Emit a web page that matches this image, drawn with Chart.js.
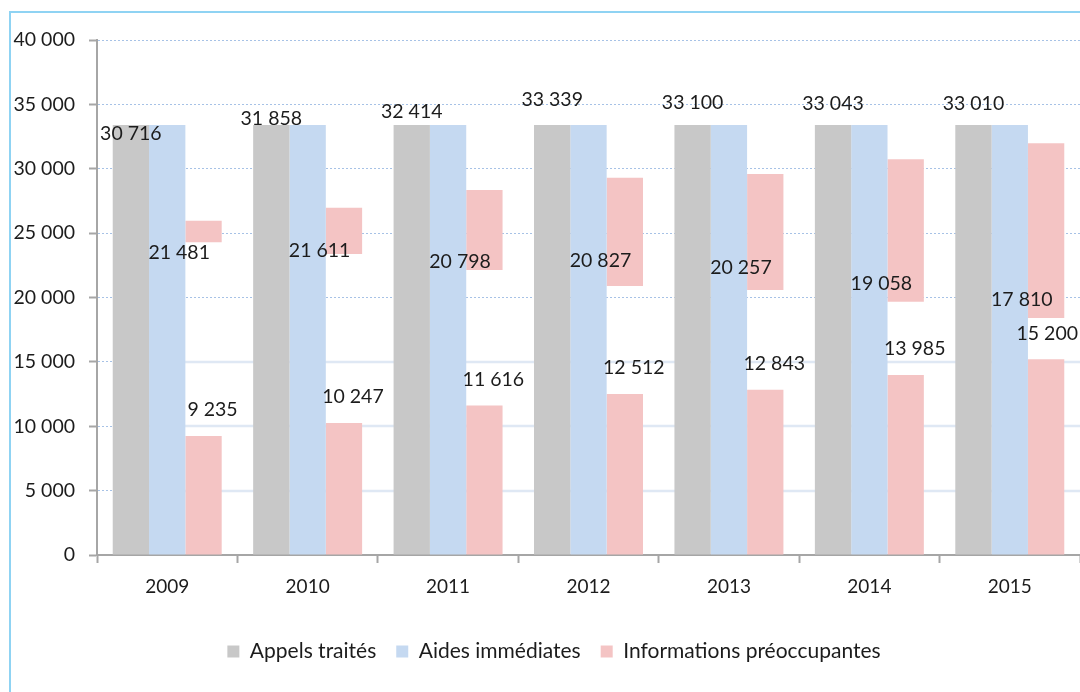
<!DOCTYPE html>
<html>
<head>
<meta charset="utf-8">
<script src="https://cdn.jsdelivr.net/npm/chart.js@4.4.1/dist/chart.umd.min.js"></script>
<style>
  html, body { margin: 0; padding: 0; background: #ffffff; }
  #wrap { position: relative; width: 1080px; height: 692px; overflow: hidden; background: #fff; }
  #frame { position: absolute; left: 9px; top: 11px; width: 1100px; height: 700px;
           border-left: 2px solid #8fd3f3; border-top: 2px solid #8fd3f3; pointer-events: none; }
  canvas { position: absolute; left: 0; top: 0; }
</style>
</head>
<body>
<div id="wrap">
  <canvas id="c" width="1080" height="692"></canvas>
  <div id="frame"></div>
</div>
<script>
// ---- data ----
const years = ['2009', '2010', '2011', '2012', '2013', '2014', '2015'];
// values printed on the chart
const appelsTraites = [30716, 31858, 32414, 33339, 33100, 33043, 33010];
const aidesImmediates = [21481, 21611, 20798, 20827, 20257, 19058, 17810];
const infosPreoccupantes = [9235, 10247, 11616, 12512, 12843, 13985, 15200];
// heights of the bars as they are drawn in the picture
const appelsBarTop = [33400, 33400, 33400, 33400, 33400, 33400, 33400];
const aidesBarTop = [33400, 33400, 33400, 33400, 33400, 33400, 33400];
const infosUpperLow = [24290, 23380, 22140, 20890, 20580, 19670, 18400];
const infosUpperHigh = [25970, 26980, 28350, 29300, 29590, 30730, 31980];
const yTicks = [0, 5000, 10000, 15000, 20000, 25000, 30000, 35000, 40000];

const fmt = v => String(v).replace(/\B(?=(\d{3})+(?!\d))/g, ' ');
const FONT = 'Lato, "Open Sans", sans-serif';
const TXT = '#1c1c1c';

const upperSegments = infosUpperLow.map((lo, i) => [lo, infosUpperHigh[i]]);

const labelPlugin = {
  id: 'valueLabels',
  afterDatasetsDraw(chart) {
    const ctx = chart.ctx;
    const y = chart.scales.y;
    const sets = [
      { ds: 0, vals: appelsTraites, dx: 0 },
      { ds: 1, vals: aidesImmediates, dx: 12 },
      { ds: 2, vals: infosPreoccupantes, dx: 9 }
    ];
    ctx.save();
    ctx.font = '19.5px ' + FONT;
    ctx.fillStyle = TXT;
    ctx.textAlign = 'center';
    ctx.textBaseline = 'middle';
    sets.forEach(s => {
      const meta = chart.getDatasetMeta(s.ds);
      meta.data.forEach((bar, i) => {
        const t = fmt(s.vals[i]);
        const w = ctx.measureText(t).width;
        let x = bar.x + s.dx;
        if (x + w / 2 > chart.width - 2) x = chart.width - 2 - w / 2;
        const py = y.getPixelForValue(s.vals[i]) - 26;
        ctx.fillText(t, x, py);
      });
    });
    ctx.restore();
  }
};

const guidePlugin = {
  id: 'guides',
  beforeDatasetsDraw(chart) {
    const ctx = chart.ctx, a = chart.chartArea, y = chart.scales.y;
    ctx.save();
    ctx.strokeStyle = '#dfe8f4';
    ctx.lineWidth = 2.5;
    [5000, 10000, 15000].forEach(v => {
      const py = Math.round(y.getPixelForValue(v));
      ctx.beginPath(); ctx.moveTo(a.left + 20, py); ctx.lineTo(a.right, py); ctx.stroke();
    });
    ctx.restore();
  }
};

const legendShift = {
  id: 'legendShift',
  afterLayout(chart) {
    if (chart.legend) { chart.legend.left += 14; chart.legend.right += 14; }
  }
};

new Chart(document.getElementById('c'), {
  type: 'bar',
  data: {
    labels: years,
    datasets: [
      { label: 'Appels traités', data: appelsBarTop, backgroundColor: '#c8c8c8', stack: 'a' },
      { label: 'Aides immédiates', data: aidesBarTop, backgroundColor: '#c5d9f1', stack: 'b' },
      { label: 'Informations préoccupantes', data: infosPreoccupantes, backgroundColor: '#f4c4c4', stack: 'c' },
      { label: '_upper', data: upperSegments, backgroundColor: '#f4c4c4', stack: 'c' }
    ]
  },
  options: {
    responsive: false,
    animation: false,
    devicePixelRatio: 1,
    layout: { padding: { left: 0, right: 0, top: 40, bottom: 20 } },
    datasets: { bar: { barPercentage: 1.0, categoryPercentage: 0.776, borderWidth: 0 } },
    scales: {
      x: {
        stacked: true,
        grid: { display: true, drawOnChartArea: false, drawTicks: true, tickLength: 8, tickColor: '#a6a6a6', tickWidth: 2, offset: true },
        border: { display: true, color: '#a6a6a6', width: 2 },
        ticks: { color: TXT, font: { family: FONT, size: 19 }, padding: 12 },
        afterFit(s) { s.height = 66; }
      },
      y: {
        stacked: false,
        min: 0, max: 40000,
        afterBuildTicks(s) { s.ticks = yTicks.map(v => ({ value: v })); },
        grid: { color: '#a7c2e6', lineWidth: 1, tickLength: 8, tickColor: '#a6a6a6', tickWidth: 2 },
        border: { display: true, color: '#a6a6a6', width: 2, dash: [2, 2] },
        ticks: { color: TXT, font: { family: FONT, size: 19.5 }, padding: 14, callback: v => fmt(v) },
        afterFit(s) { s.width = 97; }
      }
    },
    plugins: {
      legend: {
        position: 'bottom',
        labels: {
          filter: item => item.text !== '_upper',
          boxWidth: 12, boxHeight: 12, padding: 20,
          color: TXT, font: { family: FONT, size: 21 }
        }
      },
      tooltip: { enabled: false }
    }
  },
  plugins: [guidePlugin, labelPlugin, legendShift]
});
</script>
</body>
</html>
